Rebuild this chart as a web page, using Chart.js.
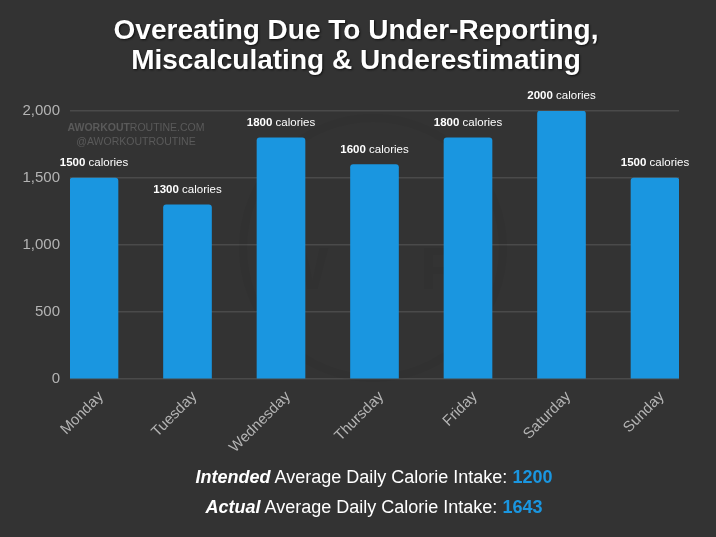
<!DOCTYPE html>
<html>
<head>
<meta charset="utf-8">
<script src="https://cdn.jsdelivr.net/npm/chart.js@4"></script>
<style>
  body { margin: 0; background: #333333; }
  #wrap { position: relative; width: 716px; height: 537px; background: #333333; overflow: hidden; }
  #myChart { position: absolute; left: 0; top: 0; }
  .title {
    position: absolute; left: -2px; width: 716px; text-align: center;
    font-family: "Liberation Sans", Arial, sans-serif; font-weight: bold; font-size: 28px;
    color: #ffffff; text-shadow: 1px 1px 2px #111;
  }
  .foot {
    position: absolute; left: 16px; width: 716px; text-align: center;
    font-family: "Liberation Sans", Arial, sans-serif; font-size: 18px; color: #ffffff;
  }
  .foot b { font-style: italic; }
  .foot span { color: #1a96e0; font-weight: bold; }
</style>
</head>
<body>
<div id="wrap">
  <canvas id="myChart" width="716" height="537"></canvas>
  <div class="title" style="top:14px;">Overeating Due To Under-Reporting,</div>
  <div class="title" style="top:44px;">Miscalculating &amp; Underestimating</div>
  <div class="foot" style="top:467px;"><b>Intended</b> Average Daily Calorie Intake: <span>1200</span></div>
  <div class="foot" style="top:497px;"><b>Actual</b> Average Daily Calorie Intake: <span>1643</span></div>
</div>
<script>
const days = ["Monday", "Tuesday", "Wednesday", "Thursday", "Friday", "Saturday", "Sunday"];
const calories = [1500, 1300, 1800, 1600, 1800, 2000, 1500];
const yTicks = [0, 500, 1000, 1500, 2000];

document.addEventListener("DOMContentLoaded", function () {
    const ctx = document.getElementById("myChart").getContext("2d");

    // faint watermark behind the bars
    const watermark = {
        id: "watermark",
        beforeDatasetsDraw(chart) {
            const c = chart.ctx;
            const a = chart.chartArea;
            c.save();
            c.strokeStyle = "rgba(0,0,0,0.04)";
            c.lineWidth = 8;
            c.beginPath();
            c.arc(373, 248, 130, 0, Math.PI * 2);
            c.stroke();
            c.fillStyle = "rgba(0,0,0,0.04)";
            c.font = "bold 60px 'Liberation Sans', Arial";
            c.textAlign = "center";
            c.textBaseline = "middle";
            c.fillText("W", 300, 272);
            c.fillText("R", 442, 272);
            c.textBaseline = "alphabetic";
            c.fillStyle = "#5a5a5a";
            c.font = "bold 10.5px 'Liberation Sans', Arial";
            const w1 = c.measureText("AWORKOUT").width;
            c.font = "10.5px 'Liberation Sans', Arial";
            const w2 = c.measureText("ROUTINE.COM").width;
            let x = a.left + 66 - (w1 + w2) / 2;
            c.textAlign = "left";
            c.font = "bold 10.5px 'Liberation Sans', Arial";
            c.fillText("AWORKOUT", x, a.top + 20);
            c.font = "10.5px 'Liberation Sans', Arial";
            c.fillText("ROUTINE.COM", x + w1, a.top + 20);
            c.textAlign = "center";
            c.fillText("@AWORKOUTROUTINE", a.left + 66, a.top + 34);
            c.restore();
        },
    };

    // "1500 calories" labels above bars
    const barLabels = {
        id: "barLabels",
        afterDatasetsDraw(chart) {
            const c = chart.ctx;
            const meta = chart.getDatasetMeta(0);
            c.save();
            c.fillStyle = "#ffffff";
            c.textBaseline = "alphabetic";
            c.textAlign = "left";
            meta.data.forEach(function (bar, i) {
                const num = String(calories[i]);
                c.font = "bold 11.5px 'Liberation Sans', Arial";
                const w1 = c.measureText(num).width;
                c.font = "11.5px 'Liberation Sans', Arial";
                const w2 = c.measureText(" calories").width;
                const x0 = bar.x - (w1 + w2) / 2;
                c.font = "bold 11.5px 'Liberation Sans', Arial";
                c.fillText(num, x0, bar.y - 12);
                c.font = "11.5px 'Liberation Sans', Arial";
                c.fillText(" calories", x0 + w1, bar.y - 12);
            });
            c.restore();
        },
    };

    const myChart = new Chart(ctx, {
        type: "bar",
        data: {
            datasets: [
                {
                    label: "Calories",
                    data: calories.map(function (v, i) { return { x: i, y: v }; }),
                    backgroundColor: "#1a96e0",
                    borderRadius: { topLeft: 3, topRight: 3 },
                    borderSkipped: "bottom",
                    barThickness: 48,
                },
            ],
        },
        options: {
            responsive: false,
            animation: false,
            devicePixelRatio: 1,
            layout: { padding: { left: 0, right: 37, top: 111, bottom: 0 } },
            scales: {
                x: {
                    type: "linear",
                    offset: false,
                    min: -0.2567,
                    max: 6.2567,
                    afterFit: function (scale) { scale.height = 158; },
                    afterBuildTicks: function (scale) {
                        scale.ticks = days.map(function (d, i) { return { value: i }; });
                    },
                    grid: { display: false },
                    border: { display: false },
                    ticks: {
                        color: "#b4b4b4",
                        font: { family: "'Liberation Sans', Arial", size: 15 },
                        minRotation: 45,
                        maxRotation: 45,
                        padding: 1,
                        labelOffset: 7,
                        callback: function (value) { return days[value]; },
                    },
                },
                y: {
                    min: 0,
                    max: 2000,
                    afterFit: function (scale) { scale.width = 70; },
                    afterBuildTicks: function (scale) {
                        scale.ticks = yTicks.map(function (v) { return { value: v }; });
                    },
                    grid: { color: "#4a4a4a", lineWidth: 1.5, drawTicks: false },
                    border: { display: false },
                    ticks: {
                        color: "#b4b4b4",
                        font: { family: "'Liberation Sans', Arial", size: 15 },
                        padding: 10,
                        callback: function (value) { return value.toLocaleString("en-US"); },
                    },
                },
            },
            plugins: {
                legend: { display: false },
                tooltip: { enabled: false },
                title: { display: false },
            },
        },
        plugins: [watermark, barLabels],
    });
});
</script>
</body>
</html>
